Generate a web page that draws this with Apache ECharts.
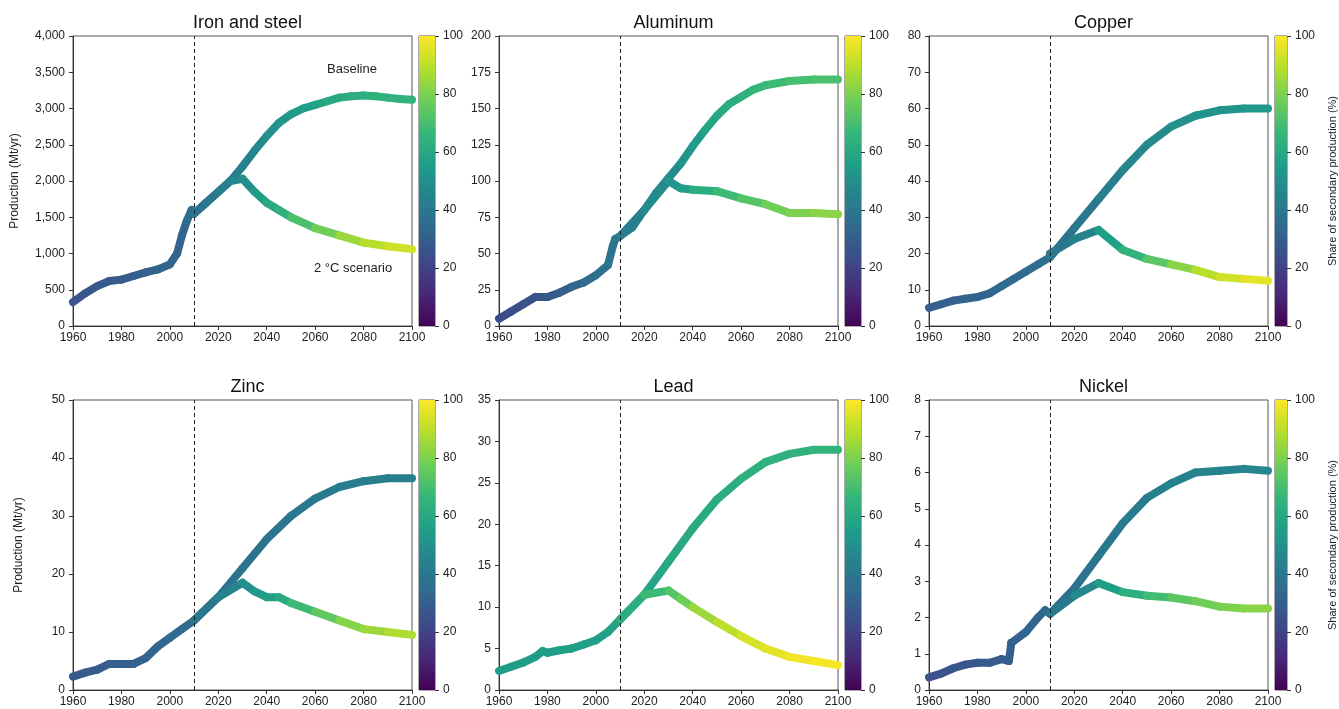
<!DOCTYPE html>
<html>
<head>
<meta charset="utf-8">
<title>Metal production</title>
<script src="https://cdn.jsdelivr.net/npm/echarts@6/dist/echarts.min.js"></script>
<style>
    body { margin: 0; background: #fff; }
    #main { width: 1339px; height: 709px; }
</style>
</head>
<body>
<div id="main"></div>
<script>
    // metal names (panel titles)
    var metals = ['Iron and steel', 'Aluminum', 'Copper', 'Zinc', 'Lead', 'Nickel'];
    var yMax = [4000, 200, 80, 50, 35, 8];
    var yStep = [500, 25, 10, 10, 5, 1];

    // baseline: [year, production, share of secondary %]
    var steelBase = [[1960,330,25],[1965,450,26],[1970,550,27],[1975,620,28],[1980,640,28],[1985,690,29],[1990,740,30],[1995,780,31],[2000,850,32],[2003,1000,32],[2005,1250,32],[2007,1450,33],[2009,1600,35],[2010,1550,35],[2015,1700,37],[2020,1850,39],[2025,2000,41],[2030,2200,43],[2035,2420,45],[2040,2620,47],[2045,2800,50],[2050,2920,52],[2055,3000,54],[2060,3050,56],[2065,3100,58],[2070,3150,60],[2075,3170,61],[2080,3180,62],[2085,3170,63],[2090,3150,64],[2095,3130,64],[2100,3120,65]];
    var steel2C = [[2010,1550,35],[2015,1700,38],[2020,1850,41],[2025,2000,43],[2030,2030,46],[2035,1850,50],[2040,1700,55],[2045,1600,60],[2050,1500,64],[2060,1350,71],[2070,1250,78],[2080,1150,85],[2090,1100,89],[2100,1060,93]];

    var aluBase = [[1960,5,22],[1965,10,23],[1970,15,24],[1975,20,25],[1980,20,26],[1985,23,28],[1990,27,30],[1995,30,32],[2000,35,35],[2005,42,37],[2007,55,38],[2008,60,38],[2010,62,39],[2015,68,41],[2020,80,43],[2025,92,45],[2030,102,47],[2035,112,49],[2040,124,52],[2045,135,55],[2050,145,58],[2055,153,60],[2060,158,62],[2065,163,64],[2070,166,66],[2080,169,68],[2090,170,70],[2100,170,71]];
    var alu2C = [[2010,62,39],[2020,80,43],[2030,100,48],[2035,95,52],[2040,94,56],[2050,93,62],[2060,88,68],[2070,84,73],[2080,78,78],[2090,78,80],[2100,77,82]];

    var cuBase = [[1960,5,30],[1965,6,30],[1970,7,31],[1975,7.5,31],[1980,8,32],[1985,9,32],[1990,11,33],[1995,13,34],[2000,15,34],[2005,17,35],[2010,19,36],[2020,27,38],[2030,35,40],[2040,43,43],[2050,50,46],[2060,55,48],[2070,58,50],[2080,59.5,51],[2090,60,52],[2100,60,53]];
    var cu2C = [[2010,20,36],[2020,24,40],[2030,26.5,45],[2040,21,56],[2050,18.5,65],[2060,17,74],[2070,15.5,82],[2080,13.5,89],[2090,13,93],[2100,12.5,96]];

    var znBase = [[1960,2.3,28],[1965,3,28],[1970,3.5,29],[1975,4.5,29],[1980,4.5,30],[1985,4.5,30],[1990,5.5,31],[1995,7.5,32],[2000,9,33],[2005,10.5,34],[2010,12,35],[2020,16,36],[2030,21,37],[2040,26,38],[2050,30,39],[2060,33,40],[2070,35,41],[2080,36,42],[2090,36.5,43],[2100,36.5,43]];
    var zn2C = [[2010,12,35],[2020,16,40],[2030,18.5,45],[2035,17,50],[2040,16,54],[2045,16,57],[2050,15,61],[2060,13.5,68],[2070,12,75],[2080,10.5,81],[2090,10,85],[2100,9.5,88]];

    var pbBase = [[1960,2.3,55],[1965,2.8,55],[1970,3.3,55],[1975,4,55],[1978,4.7,55],[1980,4.5,55],[1985,4.8,55],[1990,5,56],[1995,5.5,56],[2000,6,56],[2005,7,56],[2010,8.5,57],[2020,11.5,58],[2030,15.5,59],[2040,19.5,60],[2050,23,61],[2060,25.5,62],[2070,27.5,63],[2080,28.5,64],[2090,29,64],[2100,29,65]];
    var pb2C = [[2010,8.5,57],[2020,11.5,62],[2030,12,68],[2035,11,73],[2040,10,78],[2050,8.2,85],[2060,6.5,90],[2070,5,94],[2080,4,96],[2090,3.5,98],[2100,3,99]];

    var niBase = [[1960,0.35,24],[1965,0.45,25],[1970,0.6,26],[1975,0.7,27],[1980,0.75,27],[1985,0.75,28],[1990,0.85,29],[1993,0.8,29],[1994,1.3,30],[2000,1.6,31],[2005,2.0,33],[2008,2.2,33],[2010,2.1,34],[2020,2.8,36],[2030,3.7,38],[2040,4.6,40],[2050,5.3,42],[2060,5.7,43],[2070,6.0,44],[2080,6.05,45],[2090,6.1,45],[2100,6.05,46]];
    var ni2C = [[2010,2.1,34],[2020,2.6,40],[2030,2.95,47],[2040,2.7,56],[2050,2.6,63],[2060,2.55,69],[2070,2.45,74],[2080,2.3,78],[2090,2.25,80],[2100,2.25,82]];

    var baseData = [steelBase, aluBase, cuBase, znBase, pbBase, niBase];
    var c2Data = [steel2C, alu2C, cu2C, zn2C, pb2C, ni2C];

    var viridis = ['#440154','#482878','#3e4989','#31688e','#26828e','#1f9e89','#35b779','#6ece58','#b5de2b','#fde725'];

    function hex(c) { return [parseInt(c.substr(1,2),16), parseInt(c.substr(3,2),16), parseInt(c.substr(5,2),16)]; }
    function colorOf(v) {
        var t = Math.max(0, Math.min(1, v / 100)) * (viridis.length - 1);
        var i = Math.min(viridis.length - 2, Math.floor(t)), f = t - i;
        var a = hex(viridis[i]), b = hex(viridis[i + 1]);
        return 'rgb(' + [0,1,2].map(function(k){ return Math.round(a[k] + (b[k]-a[k]) * f); }).join(',') + ')';
    }

    // thick line made of short coloured segments
    function segRender(data) {
        return function(params, api) {
            var i = params.dataIndex;
            var p1 = api.coord([data[i][0], data[i][1]]);
            var p0 = i > 0 ? api.coord([data[i-1][0], data[i-1][1]]) : p1;
            return {
                type: 'line',
                shape: { x1: p0[0], y1: p0[1], x2: p1[0], y2: p1[1] },
                style: { stroke: colorOf(data[i][2]), lineWidth: 8, lineCap: 'round' }
            };
        };
    }

    var FONT = 'Liberation Sans';
    var lefts = [73, 499, 929];
    var tops = [36, 400];
    var W = 339, H = 290;
    var grids = [], xAxes = [], yAxes = [], series = [], titles = [], graphics = [];
    var axisTxt = { color: '#222', fontSize: 12, fontFamily: FONT };
    var stops = viridis.map(function(c, k) { return { offset: k / (viridis.length - 1), color: c }; });

    for (var m = 0; m < 6; m++) {
        var r = Math.floor(m / 3), c = m % 3;
        var gi = grids.length;
        grids.push({ left: lefts[c], top: tops[r], width: W, height: H, show: true, borderColor: '#555', borderWidth: 1 });
        xAxes.push({ gridIndex: gi, type: 'value', min: 1960, max: 2100, interval: 20, splitLine: { show: false },
            axisLine: { lineStyle: { color: '#333' } }, axisTick: { length: 4, lineStyle: { color: '#333' } },
            axisLabel: Object.assign({ margin: 6, formatter: function(v){ return String(v); } }, axisTxt) });
        yAxes.push({ gridIndex: gi, type: 'value', min: 0, max: yMax[m], interval: yStep[m], splitLine: { show: false },
            name: c === 0 ? 'Production (Mt/yr)' : '', nameLocation: 'middle', nameGap: m === 0 ? 52 : 48,
            nameTextStyle: { color: '#222', fontSize: 12, fontFamily: FONT },
            axisLine: { show: true, lineStyle: { color: '#333' } }, axisTick: { show: true, length: 4, lineStyle: { color: '#333' } },
            axisLabel: Object.assign({ margin: 8, formatter: function(v){ return v >= 1000 ? v.toLocaleString('en-US') : String(v); } }, axisTxt) });
        titles.push({ text: metals[m], left: lefts[c] + W / 2, top: tops[r] - 27, textAlign: 'center',
            textStyle: { fontSize: 18, fontWeight: 'normal', color: '#111', fontFamily: FONT } });

        series.push({ type: 'custom', xAxisIndex: gi, yAxisIndex: gi, data: baseData[m], renderItem: segRender(baseData[m]), z: 2 });
        series.push({ type: 'custom', xAxisIndex: gi, yAxisIndex: gi, data: c2Data[m], renderItem: segRender(c2Data[m]), z: 3 });
        series.push({ type: 'line', xAxisIndex: gi, yAxisIndex: gi, data: [], z: 4,
            markLine: { silent: true, symbol: 'none', label: { show: false },
                lineStyle: { color: '#222', type: [4, 3], width: 1 }, data: [{ xAxis: 2010 }] } });

        // colorbar
        var cb = grids.length;
        grids.push({ left: lefts[c] + W + 7, top: tops[r], width: 16, height: H, show: true, borderColor: '#555', borderWidth: 1 });
        xAxes.push({ gridIndex: cb, type: 'category', data: ['a'], show: false });
        yAxes.push({ gridIndex: cb, type: 'value', min: 0, max: 100, interval: 20, position: 'right', splitLine: { show: false },
            name: c === 2 ? 'Share of secondary production (%)' : '', nameLocation: 'middle', nameGap: 40, nameRotate: 90,
            nameTextStyle: { color: '#222', fontSize: 11, fontFamily: FONT },
            axisLine: { show: false }, axisTick: { show: true, length: 4, lineStyle: { color: '#333' } },
            axisLabel: Object.assign({ margin: 8 }, axisTxt) });
        series.push({ type: 'bar', xAxisIndex: cb, yAxisIndex: cb, data: [100], barWidth: '100%', silent: true,
            itemStyle: { color: { type: 'linear', x: 0, y: 1, x2: 0, y2: 0, colorStops: stops } } });
    }

    graphics.push({ type: 'text', left: 327, top: 63, style: { text: 'Baseline', fontSize: 13, fill: '#222', fontFamily: FONT } });
    graphics.push({ type: 'text', left: 314, top: 262, style: { text: '2 °C scenario', fontSize: 13, fill: '#222', fontFamily: FONT } });

    var chart = echarts.init(document.getElementById('main'));
    chart.setOption({
        animation: false,
        title: titles,
        grid: grids,
        xAxis: xAxes,
        yAxis: yAxes,
        series: series,
        graphic: graphics
    });
</script>
</body>
</html>
